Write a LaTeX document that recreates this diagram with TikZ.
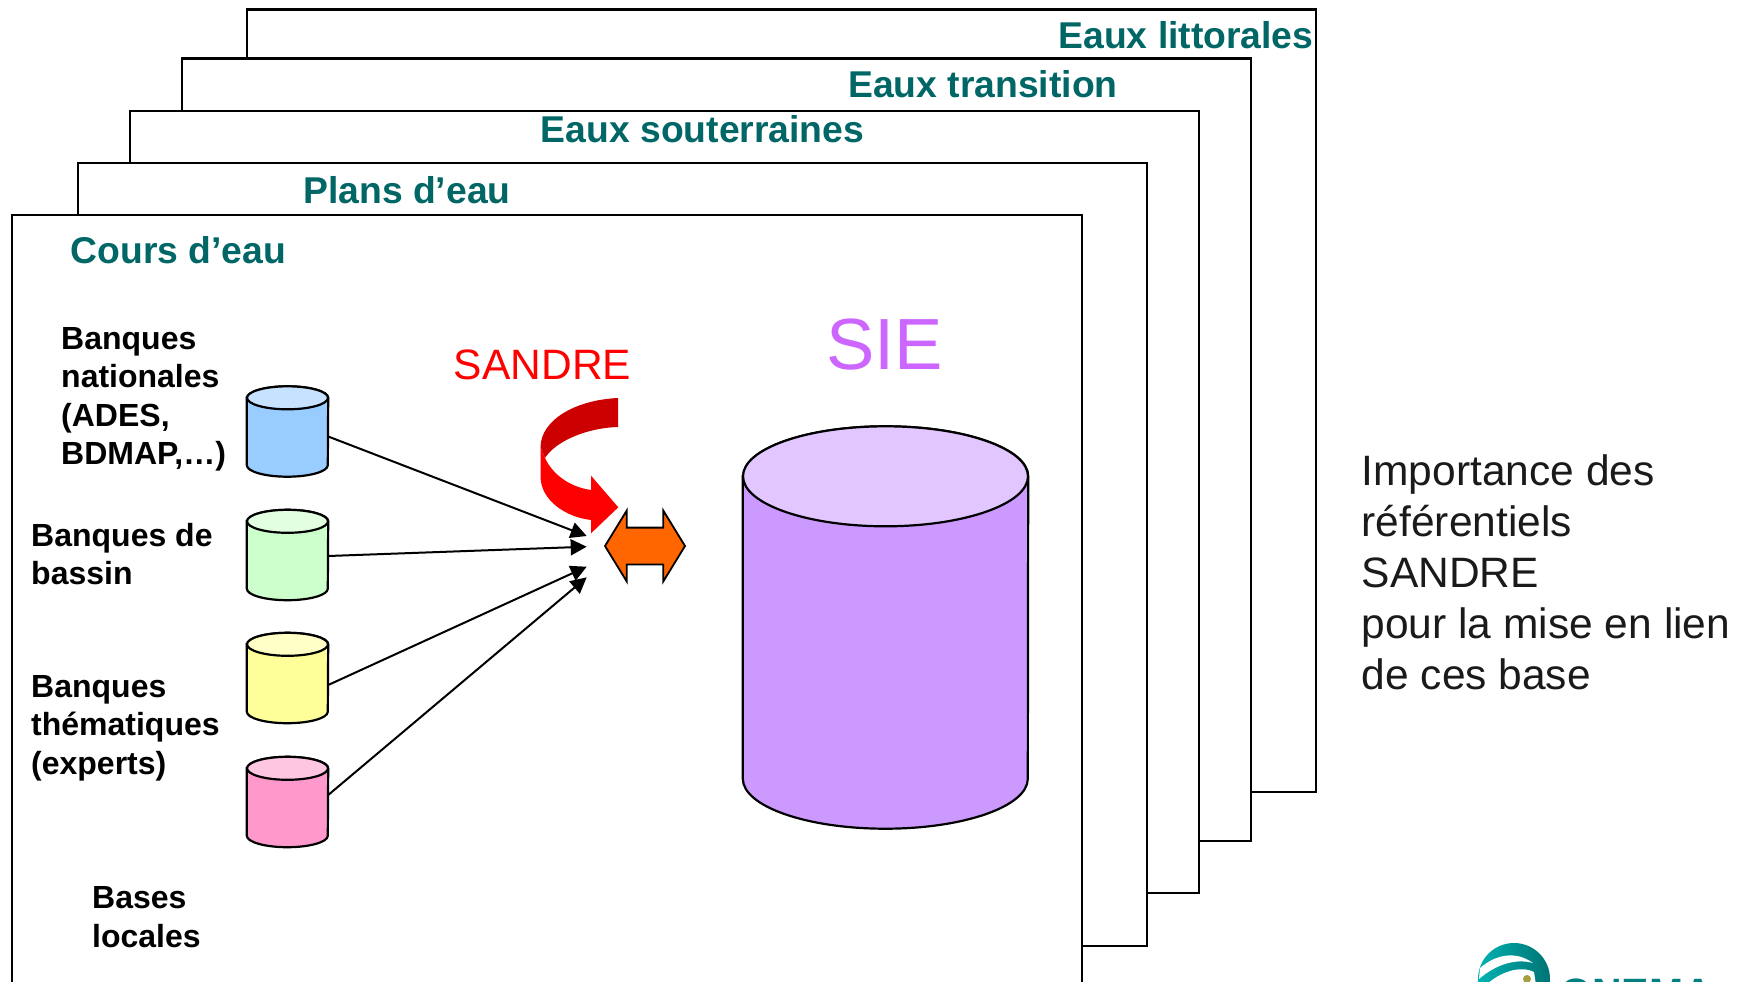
\documentclass[tikz,border=0pt]{standalone}
\usepackage{fontspec}
\setmainfont{Liberation Sans}
\usepackage{xcolor}
\usetikzlibrary{arrows.meta,positioning,shapes.geometric,shapes.arrows}
\definecolor{sheetteal}{HTML}{006666}
\definecolor{importgray}{HTML}{1A1A1A}
\definecolor{bluebody}{HTML}{99CCFF}
\definecolor{blueend}{HTML}{C6E2FF}
\definecolor{greenbody}{HTML}{CCFFCC}
\definecolor{greenend}{HTML}{E2FFE2}
\definecolor{yellowbody}{HTML}{FFFF99}
\definecolor{yellowend}{HTML}{FFFFC6}
\definecolor{pinkbody}{HTML}{FF99CC}
\definecolor{pinkend}{HTML}{FFC6E2}
\definecolor{siebody}{HTML}{CC99FF}
\definecolor{sieend}{HTML}{E2C6FF}
\definecolor{sietext}{HTML}{CC66FF}
\definecolor{swaporange}{HTML}{FF6600}
\tikzset{
>={Triangle[length=16pt,width=16pt]},
  sheet/.style={
    rectangle,
    draw=black, line width=2.2pt,
    fill=white,
    anchor=north west,
    inner sep=0pt},
  sheettitle/.style={
    text=sheetteal,
    font=\fontsize{37.3}{44}\selectfont\bfseries,
    inner sep=0pt},
  banklabel/.style={
    anchor=west,
    align=left,
    font=\fontsize{32}{38.5}\selectfont\bfseries,
    inner sep=0pt},
  drumside/.style={draw=black, line width=2.2pt},
  link/.style={draw, line width=2pt, ->},
}
% name, x, y, x radius, height, y radius, body colour, end colour
\newcommand{\drum}[8]{%
  \node[inner sep=0pt, minimum width=2*#4 pt, minimum height=#5 pt] (#1) at (#2,#3) {};
  \path[drumside, fill=#7] ([yshift=-#6 pt]#1.north west) -- ([yshift=#6 pt]#1.south west)
    arc[start angle=180, end angle=360, x radius=#4 pt, y radius=#6 pt]
    -- ([yshift=-#6 pt]#1.north east)
    arc[start angle=0, end angle=180, x radius=#4 pt, y radius=#6 pt] -- cycle;
  \path[drumside, fill=#8] ([yshift=-#6 pt]#1.north) ellipse [x radius=#4 pt, y radius=#6 pt];
}
\begin{document}
\begin{tikzpicture}[x=1pt,y=-1pt]
    \useasboundingbox (0,0) rectangle (1753,982);
    \clip (0,0) rectangle (1753,982);

    % stacked sheets, back to front
    \node[sheet, minimum width=1069pt, minimum height=782.5pt] (sheet5) at (246,8.5) {};
    \node[sheet, minimum width=1069pt, minimum height=782pt] (sheet4) at (181,57.5) {};
    \node[sheet, minimum width=1069.5pt, minimum height=782pt] (sheet3) at (128.5,109.5) {};
    \node[sheet, minimum width=1069.5pt, minimum height=783pt] (sheet2) at (76.5,161.5) {};
    \node[sheet, minimum width=1070pt, minimum height=800pt] (sheet1) at (11,213.5) {};

    \node[sheettitle] (title5) at (1186,35) {Eaux littorales};
    \node[sheettitle] (title4) at (983,84) {Eaux transition};
    \node[sheettitle] (title3) at (702.5,129) {Eaux souterraines};
    \node[sheettitle] (title2) at (407,190) {Plans d’eau};
    \node[sheettitle] (title1) at (178.5,250) {Cours d’eau};

    \node[banklabel] (label1) at (61,399.5) {Banques\\nationales\\(ADES,\\BDMAP,…)};
    \node[banklabel] (label2) at (31,554) {Banques de\\bassin};
    \node[banklabel] (label3) at (31,728) {Banques\\thématiques\\(experts)};
    \node[banklabel] (label4) at (92,917) {Bases\\locales};

    \drum{bank1}{287.5}{431.5}{40.5}{90}{11.5}{bluebody}{blueend}
    \drum{bank2}{287.5}{555}{40.5}{90}{11.5}{greenbody}{greenend}
    \drum{bank3}{287.5}{678}{40.5}{90}{11.5}{yellowbody}{yellowend}
    \drum{bank4}{287.5}{802}{40.5}{90}{11.5}{pinkbody}{pinkend}

    % the big base
    \drum{sie}{885.5}{627.5}{142.5}{402}{50}{siebody}{sieend}

    \node[text=sietext, font=\fontsize{72.5}{80}\selectfont, inner sep=0pt] (sielabel) at (884.5,345) {SIE};
    \node[text=red, font=\fontsize{42.5}{50}\selectfont, inner sep=0pt] (sandre) at (542.5,364.5) {SANDRE};

    \coordinate (tip1) at (586.7,536);
    \coordinate (tip2) at (586.7,546.7);
    \coordinate (tip3) at (586.7,566.7);
    \coordinate (tip4) at (586.7,577.3);

    \path[link] ([yshift=-5pt]bank1.east) -- (tip1);
    \path[link] ([yshift=-1pt]bank2.east) -- (tip2);
    \path[link] ([yshift=-7pt]bank3.east) -- (tip3);
    \path[link] ([yshift=7pt]bank4.east) -- (tip4);

    % curved arrow
    \fill[red!80!black] (618,398) .. controls (575,400) and (541,420) .. (540.5,447) -- (545,458) .. controls (555,442) and (585,428) .. (618,427) -- cycle;
    \fill[red] (540.5,447) -- (540.5,477) .. controls (541,500) and (565,517) .. (591,520) -- (591,533.3) -- (618.3,507.3) -- (591,475.7) -- (591,490) .. controls (570,487) and (553,475) .. (545,458) -- cycle;

    \node[double arrow, draw=black, line width=1.8pt, fill=swaporange, inner xsep=0pt, inner ysep=17.5pt, minimum height=80pt, double arrow head extend=17pt, double arrow tip angle=117] (swap) at (645,546) {};

    \node[anchor=west, align=left, text=importgray, font=\fontsize{42.5}{51}\selectfont, inner sep=0pt] (note) at (1361.5,572.5) {Importance des\\référentiels\\SANDRE\\pour la mise en lien\\de ces base};

    % logo cut by the page
    \shade[left color=teal!60!cyan, right color=teal!90!black] (1514,979) circle (36);
    \fill[white] (1480,968) .. controls (1495,955) and (1515,950) .. (1533,963) .. controls (1515,958) and (1495,965) .. (1479,979) -- cycle;
    \fill[white] (1486,985) .. controls (1500,972) and (1520,965) .. (1534,972) -- (1536,985) -- cycle;
    \fill[yellow!60!black] (1527,979) circle (4);
    \node[anchor=north west, text=teal, font=\fontsize{41}{50}\selectfont\bfseries, inner sep=0pt] (logo) at (1560,979) {ONEMA};
\end{tikzpicture}
\end{document}
